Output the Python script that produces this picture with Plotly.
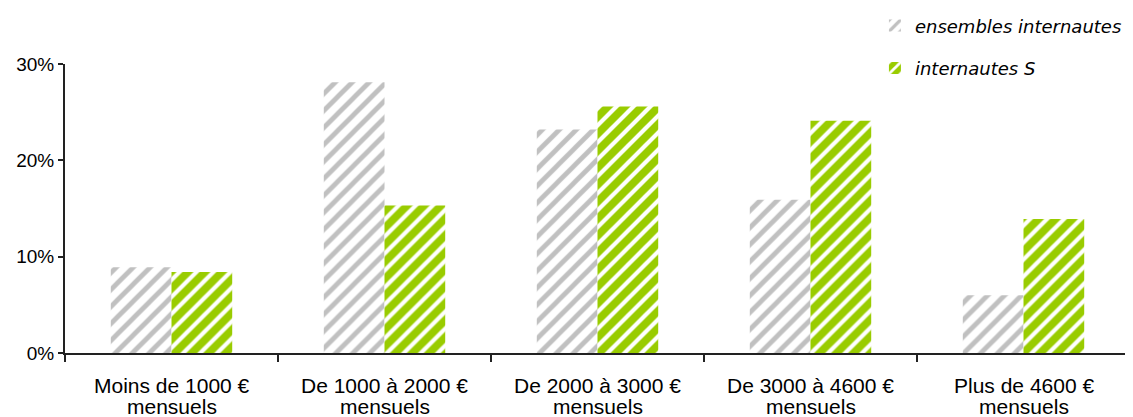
import plotly.graph_objects as go

categories = ["Moins de 1000 €", "De 1000 à 2000 €", "De 2000 à 3000 €",
              "De 3000 à 4600 €", "Plus de 4600 €"]
category_line2 = ["mensuels", "mensuels", "mensuels", "mensuels", "mensuels"]
ensembles = [8.9, 28.1, 23.2, 15.9, 6.0]
internautes_s = [8.4, 15.3, 25.6, 24.1, 13.9]
y_ticks = [0, 10, 20, 30]
y_tick_labels = ["0%", "10%", "20%", "30%"]

fig = go.Figure()
fig.add_trace(go.Bar(
    x=categories, y=ensembles, name="ensembles internautes",
    legendgroup="a",
    marker=dict(color="white", line=dict(width=0),
                pattern=dict(shape="/", fgcolor="#c0c0c0", bgcolor="white",
                             size=12, solidity=0.4, fillmode="replace")),
))
fig.add_trace(go.Bar(
    x=categories, y=internautes_s, name="internautes S",
    legendgroup="b",
    marker=dict(color="#99cc00", line=dict(width=0),
                pattern=dict(shape="/", fgcolor="white", bgcolor="#99cc00",
                             size=12, solidity=0.35, fillmode="replace")),
))

label_font = dict(family="Liberation Sans, Arial", size=21, color="black")
annotations = []
for c, l2 in zip(categories, category_line2):
    annotations.append(dict(x=c, y=-0.111, xref="x", yref="paper", text=c,
                            showarrow=False, xanchor="center", yanchor="middle",
                            font=label_font))
    annotations.append(dict(x=c, y=-0.186, xref="x", yref="paper", text=l2,
                            showarrow=False, xanchor="center", yanchor="middle",
                            font=label_font))

fig.update_layout(
    width=1125, height=409,
    margin=dict(l=57, r=3, t=56, b=64, autoexpand=False),
    paper_bgcolor="white", plot_bgcolor="white",
    barmode="group", bargap=0.43, bargroupgap=0,
    font=dict(family="Liberation Sans, Arial", size=19, color="black"),
    legend=dict(x=0.7605, y=1.196, xanchor="left", yanchor="top",
                tracegroupgap=16,
                font=dict(family="DejaVu Sans", size=18, style="italic", color="black"),
                bgcolor="rgba(0,0,0,0)"),
    showlegend=True,
    annotations=annotations,
)
fig.update_xaxes(
    automargin=False, showticklabels=False,
    showline=True, linecolor="#222", linewidth=2,
    ticks="outside", tickson="boundaries", ticklen=7, tickcolor="#222", tickwidth=2,
    showgrid=False,
)
fig.update_yaxes(
    automargin=False,
    range=[0, 30], tickvals=y_ticks, ticktext=y_tick_labels,
    showline=True, linecolor="#222", linewidth=2,
    ticks="outside", ticklen=5, tickcolor="#222", tickwidth=2,
    showgrid=False, zeroline=False, tickfont=dict(size=19),
)

fig.write_html("out.html")
